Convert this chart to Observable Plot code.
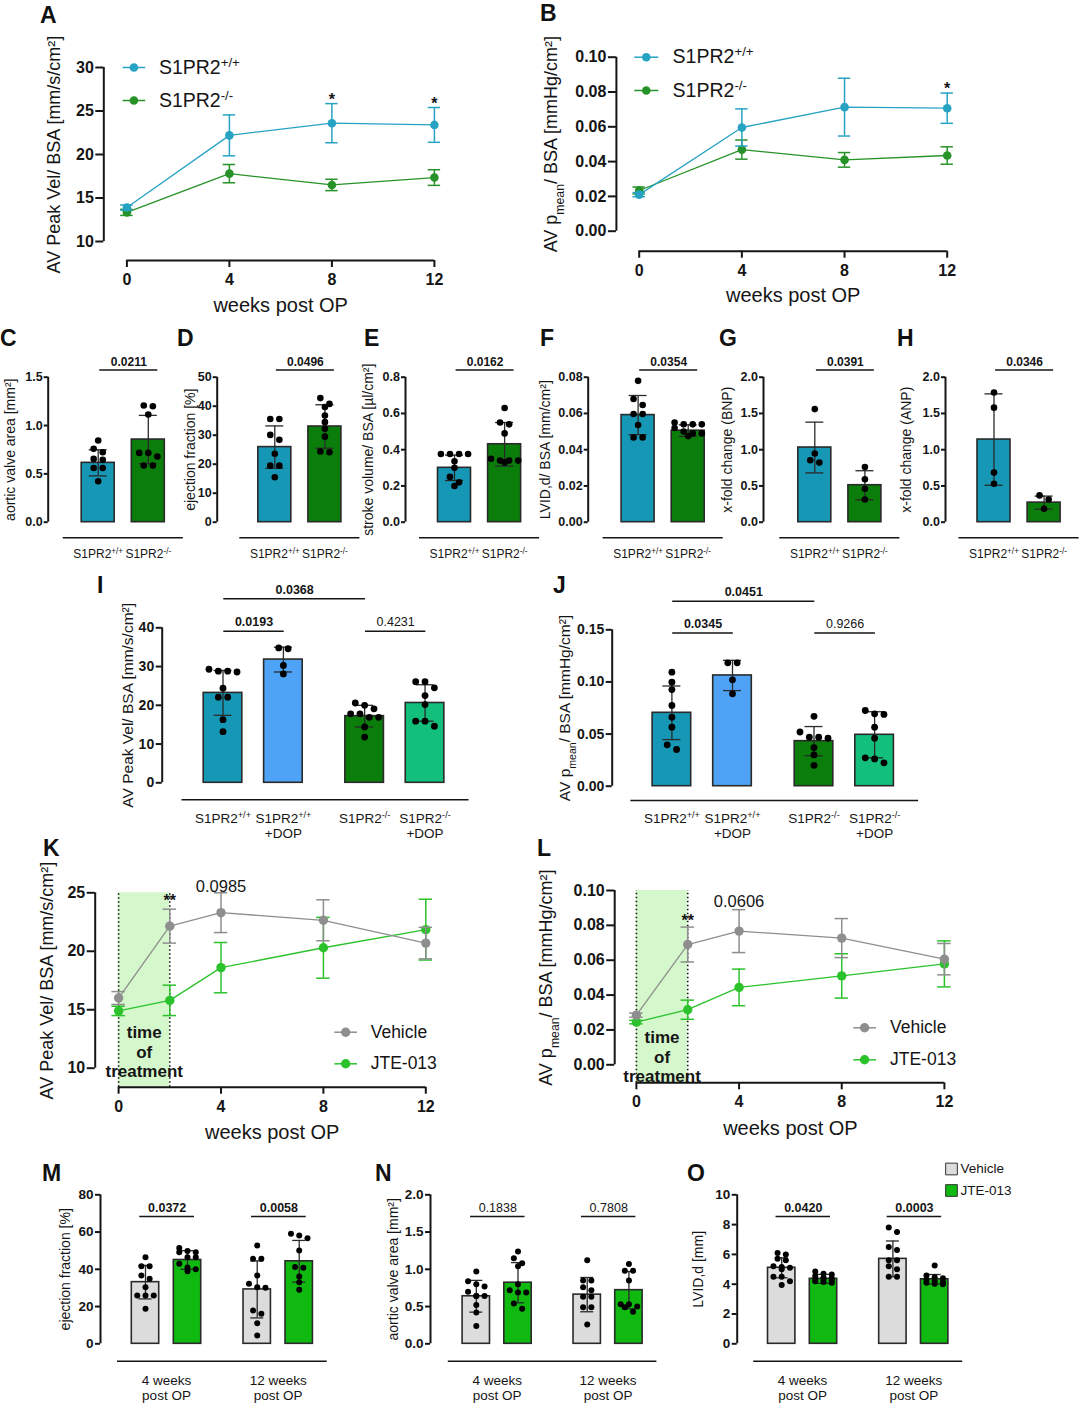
<!DOCTYPE html>
<html><head><meta charset="utf-8">
<script src="https://cdn.jsdelivr.net/npm/d3@7"></script>
<script src="https://cdn.jsdelivr.net/npm/@observablehq/plot@0.6"></script>
<style>
body{margin:0;background:#fff}
#fig{position:relative;width:1080px;height:1403px;background:#fff;font-family:'Liberation Sans',Arial,sans-serif;overflow:hidden}
.letter{position:absolute;font-weight:bold;font-size:23px;line-height:1;color:#111}
</style></head>
<body><div id="fig"></div>
<script>
// ================= DATA =================
// A – AV peak velocity / BSA (mean ± SEM)
const weeksAB = [0, 4, 8, 12];
const aWtMean = [13.9, 22.2, 23.6, 23.4];
const aWtErr  = [0.3, 2.35, 2.25, 2.0];
const aKoMean = [13.35, 17.8, 16.5, 17.35];
const aKoErr  = [0.35, 1.05, 0.65, 0.9];
const aTicksY = [10, 15, 20, 25, 30];
// B – AV pmean / BSA
const bWtMean = [0.021, 0.0596, 0.0713, 0.0707];
const bWtErr  = [0.0012, 0.0107, 0.0166, 0.0087];
const bKoMean = [0.0234, 0.0469, 0.041, 0.0435];
const bKoErr  = [0.002, 0.0055, 0.0042, 0.005];
const bTicksY = [0, 0.02, 0.04, 0.06, 0.08, 0.10];
const weekTicks = [0, 4, 8, 12];
const genoNames = ["S1PR2^{+/+}", "S1PR2^{-/-}"];
const aNotes = [{x: 8, s: 0, t: "*"}, {x: 12, s: 0, t: "*"}];
const bNotes = [{x: 12, s: 0, t: "*"}];

// C–H two-group bar charts (mean, SD, individual points)
const cMean = [0.614, 0.855], cSD = [0.135, 0.25];
const cPts = [[0.845, 0.759, 0.724, 0.655, 0.645, 0.56, 0.56, 0.424], [1.2, 1.207, 1.114, 0.717, 0.717, 0.679, 0.586, 0.586]];
const dMean = [25.9, 33.0], dSD = [7.3, 7.5];
const dPts = [[35.6, 35.6, 30.1, 28.4, 23.6, 19.5, 19.5, 15.5], [42.8, 40.8, 39.7, 36.8, 34.5, 32.2, 29.5, 24.1, 24.4]];
const eMean = [0.30, 0.43], eSD = [0.07, 0.12];
const ePts = [[0.376, 0.376, 0.376, 0.376, 0.336, 0.30, 0.25, 0.20, 0.22], [0.63, 0.55, 0.54, 0.49, 0.34, 0.34, 0.34, 0.33, 0.35]];
const fMean = [0.0591, 0.0505], fSD = [0.0108, 0.0032];
const fPts = [[0.078, 0.068, 0.0647, 0.0597, 0.0597, 0.0536, 0.0467, 0.0467], [0.055, 0.054, 0.054, 0.054, 0.052, 0.050, 0.049, 0.049, 0.0475]];
const gMean = [1.03, 0.51], gSD = [0.35, 0.2];
const gPts = [[1.56, 0.947, 0.822, 0.855], [0.762, 0.591, 0.462, 0.314]];
const hMean = [1.14, 0.27], hSD = [0.63, 0.09];
const hPts = [[1.79, 1.58, 0.684, 0.531], [0.185, 0.314, 0.37]];
const cP = "0.0211", dP = "0.0496", eP = "0.0162", fP = "0.0354", gP = "0.0391", hP = "0.0346";

// I, J four-group bar charts
const dopLabels = ["S1PR2^{+/+}", "S1PR2^{+/+}\n+DOP", "S1PR2^{-/-}", "S1PR2^{-/-}\n+DOP"];
const iMean = [23.2, 31.8, 17.2, 20.6], iSD = [5.8, 3.2, 2.8, 4.7];
const iPts = [[28.8, 29.3, 28.8, 28.6, 24.4, 22.1, 22.1, 16.3, 13.2], [34.6, 34.8, 30.3, 28.1],
              [20.0, 20.6, 19.1, 17.8, 17.8, 16.9, 16.9, 14.4, 11.8], [26.1, 26.1, 24.5, 22.5, 20.2, 15.9, 15.9, 14.6]];
const iBrackets = [{a: 0, b: 1, t: "0.0193", bold: true}, {a: 0, b: 2, t: "0.0368", bold: true}, {a: 2, b: 3, t: "0.4231", bold: false}];
const jMean = [0.0704, 0.1062, 0.0432, 0.0493], jSD = [0.0257, 0.0145, 0.014, 0.0221];
const jPts = [[0.1094, 0.0998, 0.0927, 0.0774, 0.0662, 0.0566, 0.0352, 0.0397], [0.1183, 0.1183, 0.102, 0.0886],
              [0.067, 0.052, 0.047, 0.047, 0.046, 0.037, 0.030, 0.020], [0.0688, 0.0726, 0.0694, 0.0566, 0.046, 0.0224, 0.0272, 0.0262]];
const jBrackets = [{a: 0, b: 1, t: "0.0345", bold: true}, {a: 0, b: 2, t: "0.0451", bold: true}, {a: 2, b: 3, t: "0.9266", bold: false}];

// K, L – JTE-013 time course (mean ± SEM)
const weeksKL = [0, 2, 4, 8, 12];
const treatNames = ["Vehicle", "JTE-013"];
const kVehMean = [16.0, 22.15, 23.3, 22.65, 20.7], kVehErr = [0.55, 1.45, 1.7, 1.75, 1.35];
const kJteMean = [14.9, 15.8, 18.6, 20.3, 21.85], kJteErr = [0.4, 1.3, 2.15, 2.6, 2.6];
const kTicksY = [10, 15, 20, 25];
const lVehMean = [0.0285, 0.069, 0.0767, 0.0727, 0.0606], lVehErr = [0.0012, 0.01, 0.0123, 0.0112, 0.009];
const lJteMean = [0.0245, 0.0316, 0.0444, 0.051, 0.0579], lJteErr = [0.001, 0.0055, 0.0105, 0.0127, 0.0132];
const lTicksY = [0, 0.02, 0.04, 0.06, 0.08, 0.10];
const klTicksX = [0, 4, 8, 12];
const treatWindow = {x1: 0, x2: 2, label: "time\nof\ntreatment"};
const kNotes = [{x: 2, s: 0, t: "**", bold: true}, {x: 4, s: 0, t: "0.0985", bold: false}];
const lNotes = [{x: 2, s: 0, t: "**", bold: true}, {x: 4, s: 0, t: "0.0606", bold: false}];

// M, N, O – 4 and 12 weeks post OP, Vehicle vs JTE-013
const timeLabels = ["4 weeks\npost OP", "12 weeks\npost OP"];
const mMean = [33.1, 45.0, 29.2, 44.3], mSD = [9.0, 5.0, 15.3, 11.2];
const mPts = [[46.5, 41.7, 41.7, 36.7, 34.9, 30.4, 26.0, 26.0, 26.0, 18.8], [51.4, 49.8, 49.2, 49.2, 46.5, 46.5, 43.0, 41.0, 39.0, 40.0],
              [52.8, 45.6, 45.6, 36.7, 30.1, 30.4, 32.2, 16.1, 17.9, 11.1, 4.5], [59.1, 58.2, 56.7, 50.1, 41.2, 40.8, 36.2, 33.1, 29.0]];
const mBrackets = [{a: 0, b: 1, t: "0.0372", bold: true}, {a: 2, b: 3, t: "0.0058", bold: true}];
const nMean = [0.638, 0.82, 0.66, 0.72], nSD = [0.213, 0.27, 0.23, 0.25];
const nPts = [[0.97, 0.84, 0.80, 0.77, 0.70, 0.64, 0.64, 0.64, 0.52, 0.42, 0.24], [1.24, 1.15, 1.08, 1.04, 0.80, 0.72, 0.69, 0.69, 0.54, 0.47],
              [1.12, 0.85, 0.85, 0.76, 0.72, 0.63, 0.63, 0.49, 0.49, 0.26], [1.07, 0.98, 0.98, 0.85, 0.53, 0.53, 0.50, 0.49, 0.43]];
const nBrackets = [{a: 0, b: 1, t: "0.1838", bold: false}, {a: 2, b: 3, t: "0.7808", bold: false}];
const oMean = [5.1, 4.36, 5.7, 4.33], oSD = [0.67, 0.3, 1.2, 0.32];
const oPts = [[6.1, 6.0, 5.7, 5.6, 5.2, 5.15, 5.1, 5.0, 4.5, 4.5, 4.2, 3.95], [4.85, 4.7, 4.65, 4.55, 4.45, 4.4, 4.35, 4.3, 4.25, 4.2, 4.15, 4.1],
              [7.8, 7.5, 6.5, 6.3, 5.6, 5.6, 5.2, 5.0, 4.5, 4.5], [5.26, 4.59, 4.47, 4.4, 4.3, 4.2, 4.14, 4.1, 4.03, 4.0]];
const oBrackets = [{a: 0, b: 1, t: "0.0420", bold: true}, {a: 2, b: 3, t: "0.0003", bold: true}];

// ================= STYLE =================
const FONT = "'Liberation Sans', Arial, Helvetica, sans-serif";
const INK = "#151515";
const TEAL = "#1697b5", KO = "#0b7d0b", DOPB = "#4ea3f7", DOPG = "#12c07c";
const VEH = "#dcdcdc", JTE = "#10b910";
const TEAL_L = "#26a3c2", KO_L = "#279227", VEH_L = "#8e8e8e", JTE_L = "#2cc22c", SHADE = "#d4f7cb";
const fig = document.getElementById("fig");

function inv(dom, px, p) { return dom[0] + (p - px[0]) * (dom[1] - dom[0]) / (px[1] - px[0]); }
const fmt = k => d => d.toFixed(k);
const lineSym = {draw(ctx, size) { const w = Math.sqrt(size / Math.PI); ctx.moveTo(-w, 0); ctx.lineTo(w, 0); }};

function richify(svg) {
  const walker = document.createTreeWalker(svg, NodeFilter.SHOW_TEXT);
  const nodes = []; while (walker.nextNode()) nodes.push(walker.currentNode);
  for (const n of nodes) {
    const s = n.nodeValue;
    if (!/[\^_]\{/.test(s)) continue;
    const frag = document.createDocumentFragment();
    const re = /([\^_])\{([^}]*)\}/g; let last = 0, m;
    while ((m = re.exec(s))) {
      if (m.index > last) frag.appendChild(document.createTextNode(s.slice(last, m.index)));
      const t = document.createElementNS("http://www.w3.org/2000/svg", "tspan");
      t.setAttribute("baseline-shift", m[1] === "^" ? "super" : "sub");
      t.setAttribute("font-size", "68%");
      t.textContent = m[2];
      frag.appendChild(t);
      last = re.lastIndex;
    }
    if (last < s.length) frag.appendChild(document.createTextNode(s.slice(last)));
    n.parentNode.replaceChild(frag, n);
  }
}

function place(cfg, marks) {
  const [L, T, W, H] = cfg.box;
  const svg = Plot.plot({
    width: W, height: H,
    marginLeft: cfg.yAxisX - L, marginTop: cfg.yPx[1] - T,
    marginBottom: T + H - cfg.xAxisY, marginRight: 5,
    x: {type: "linear", domain: cfg.xDom, range: cfg.xPx.map(p => p - L)},
    y: {type: "linear", domain: cfg.yDom, range: cfg.yPx.map(p => p - T)},
    color: {type: "identity"},
    style: {fontFamily: FONT, fontSize: "12px", color: INK, background: "transparent", overflow: "visible"},
    marks
  });
  svg.style.position = "absolute"; svg.style.left = L + "px"; svg.style.top = T + "px";
  richify(svg);
  fig.appendChild(svg);
}

function axesMarks(cfg) {
  return [
    Plot.ruleX([inv(cfg.xDom, cfg.xPx, cfg.yAxisX)], {y1: cfg.yDom[0], y2: cfg.yDom[1], stroke: INK, strokeWidth: cfg.axisW || 2}),
    Plot.axisY({ticks: cfg.yTicks, tickFormat: cfg.yFmt, tickSize: cfg.tickSize, tickPadding: cfg.tickPad || 2, fontSize: cfg.tickFont, fontWeight: "bold", stroke: INK, strokeWidth: cfg.axisW || 2, label: null}),
    Plot.text([cfg.title], {frameAnchor: "left", y: (cfg.yDom[0] + cfg.yDom[1]) / 2, dx: cfg.titleCx - cfg.yAxisX, rotate: -90, text: d => d, textAnchor: "middle", lineAnchor: "middle", fontSize: cfg.titleSize, fill: INK})
  ];
}

function linePanel(cfg) {
  const ux = (cfg.xDom[1] - cfg.xDom[0]) / (cfg.xPx[1] - cfg.xPx[0]);
  const capU = cfg.capPx * ux;
  const yBase = inv(cfg.yDom, cfg.yPx, cfg.xAxisY);
  const marks = [];
  if (cfg.shade) {
    marks.push(Plot.rect([cfg.shade], {x1: "x1", x2: "x2", y1: yBase, y2: cfg.yDom[1], fill: SHADE}));
    marks.push(Plot.ruleX([cfg.shade.x1, cfg.shade.x2], {y1: yBase, y2: cfg.yDom[1], stroke: INK, strokeWidth: 1.6, strokeDasharray: "1.5 2.5"}));
  }
  marks.push(...axesMarks(cfg));
  marks.push(Plot.ruleY([yBase], {x1: cfg.xDom[0], x2: cfg.xDom[1], stroke: INK, strokeWidth: 2}));
  marks.push(Plot.axisX({ticks: cfg.xTicks, tickSize: 7, tickPadding: 6, fontSize: cfg.tickFont, fontWeight: "bold", stroke: INK, strokeWidth: 2, label: null}));
  marks.push(Plot.text([cfg.xLabel], {x: (cfg.xDom[0] + cfg.xDom[1]) / 2, frameAnchor: "bottom", dy: cfg.xLabelDy, text: d => d, lineAnchor: "middle", fontSize: cfg.xLabelSize, fill: INK}));
  const rows = cfg.series.map(s => s.mean.map((m, i) => ({x: cfg.x[i], m, lo: m - s.err[i], hi: m + s.err[i]})));
  [...cfg.series.keys()].reverse().forEach(si => {
    const s = cfg.series[si], d = rows[si];
    marks.push(Plot.line(d, {x: "x", y: "m", stroke: s.color, strokeWidth: 1.3}));
    marks.push(Plot.ruleX(d, {x: "x", y1: "lo", y2: "hi", stroke: s.color, strokeWidth: 1.5}));
    marks.push(Plot.ruleY(d, {y: "lo", x1: r => r.x - capU, x2: r => r.x + capU, stroke: s.color, strokeWidth: 1.5}));
    marks.push(Plot.ruleY(d, {y: "hi", x1: r => r.x - capU, x2: r => r.x + capU, stroke: s.color, strokeWidth: 1.5}));
    marks.push(Plot.dot(d, {x: "x", y: "m", r: cfg.r, fill: s.color}));
  });
  for (const n of cfg.notes) {
    const r = rows[n.s].find(q => q.x === n.x);
    marks.push(Plot.text([n], {x: n.x, y: r.hi, text: d => d.t, dy: n.bold === false ? cfg.pDy : cfg.starDy, lineAnchor: "middle",
      fontWeight: n.bold === false ? "normal" : "bold", fontSize: n.bold === false ? cfg.pSize : cfg.starSize, fill: INK}));
  }
  if (cfg.shade) {
    marks.push(Plot.text([cfg.shade.label], {x: (cfg.shade.x1 + cfg.shade.x2) / 2, y: cfg.shadeTextY, text: d => d, fontWeight: "bold", fontSize: cfg.shadeSize, lineHeight: 1.15, lineAnchor: "middle", fill: INK}));
  }
  const lg = cfg.legend;
  cfg.series.forEach((s, i) => {
    marks.push(Plot.dot([s], {frameAnchor: "top-left", dx: lg.lineDx, dy: lg.dy[i], r: lg.half, symbol: lineSym, stroke: s.color, fill: "none", strokeWidth: 1.5}));
    marks.push(Plot.dot([s], {frameAnchor: "top-left", dx: lg.lineDx, dy: lg.dy[i], r: cfg.r, fill: s.color}));
    marks.push(Plot.text([s.name], {frameAnchor: "top-left", dx: lg.textDx, dy: lg.dy[i], text: d => d, textAnchor: "start", lineAnchor: "middle", fontSize: lg.size, fill: INK}));
  });
  place(cfg, marks);
}

// symmetric row-based spreading of points (GraphPad-like), capped at the bar width
function swarm(vals, ypu, r, maxOffPx) {
  const s = 2.75 * r;
  const maxPer = Math.max(1, Math.floor(2 * maxOffPx / s) + 1);
  const order = vals.map((_, i) => i).sort((a, b) => vals[b] - vals[a]);
  const rows = [];
  for (const i of order) {
    const py = vals[i] * ypu, row = rows[rows.length - 1];
    if (row && Math.abs(row.py - py) < 1.9 * r && row.items.length < maxPer) row.items.push(i); else rows.push({py, items: [i]});
  }
  const off = vals.map(() => 0);
  for (const row of rows) row.items.forEach((i, k) => off[i] = (k - (row.items.length - 1) / 2) * s);
  return off;
}

function barPanel(cfg, dat) {
  const step = cfg.step;
  const pos = dat.mean.map((_, i) => i + Math.floor(i / 2) * (cfg.gap || 0));
  const c = {...cfg, xDom: [0, 1], xPx: [cfg.c0, cfg.c0 + step]};
  const ypu = (cfg.yPx[0] - cfg.yPx[1]) / (cfg.yDom[1] - cfg.yDom[0]);
  const halfU = cfg.barHalfPx / step, capU = cfg.capPx / step;
  const yBase = inv(cfg.yDom, cfg.yPx, cfg.xAxisY);
  const groups = dat.mean.map((m, i) => ({pos: pos[i], mean: m, lo: m - dat.sd[i], hi: m + dat.sd[i], fill: dat.colors[i]}));
  const pts = dat.pts.flatMap((vals, i) => { const off = swarm(vals, ypu, cfg.r, cfg.barHalfPx - cfg.r * 0.6); return vals.map((v, k) => ({x: pos[i] + off[k] / step, v})); });
  const catTicks = cfg.pairs ? [(pos[0] + pos[1]) / 2, (pos[2] + pos[3]) / 2] : pos;
  const catMap = new Map(catTicks.map((t, i) => [t, dat.labels[i]]));
  const br = dat.brackets.map((b, i) => ({x1: pos[b.a] + cfg.brExt[0] / step, x2: pos[b.b] + cfg.brExt[1] / step, y: cfg.yDom[1] * cfg.brLvl[i], t: b.t, bold: b.bold}));
  const marks = [
    ...axesMarks(c),
    Plot.ruleY([yBase], {x1: pos[0] - cfg.catExt[0] / step, x2: pos[pos.length - 1] + cfg.catExt[1] / step, stroke: INK, strokeWidth: 1.6}),
    Plot.axisX({ticks: catTicks, tickSize: 0, tickPadding: cfg.labelPad, tickFormat: d => catMap.get(d), fontSize: cfg.labelSize, lineHeight: cfg.labelLH || 1.15, fill: INK, label: null}),
    Plot.rect(groups, {x1: g => g.pos - halfU, x2: g => g.pos + halfU, y1: 0, y2: "mean", fill: "fill", stroke: "#2a2a2a", strokeWidth: 1.6}),
    Plot.ruleX(groups, {x: "pos", y1: "lo", y2: "hi", stroke: "#2a2a2a", strokeWidth: 1.3}),
    Plot.ruleY(groups, {y: "lo", x1: g => g.pos - capU, x2: g => g.pos + capU, stroke: "#2a2a2a", strokeWidth: 1.3}),
    Plot.ruleY(groups, {y: "hi", x1: g => g.pos - capU, x2: g => g.pos + capU, stroke: "#2a2a2a", strokeWidth: 1.3}),
    Plot.dot(pts, {x: "x", y: "v", r: cfg.r, fill: "#000"}),
    Plot.ruleY(br, {y: "y", x1: "x1", x2: "x2", stroke: INK, strokeWidth: 1.6}),
    Plot.text(br.filter(b => b.bold), {x: b => (b.x1 + b.x2) / 2, y: "y", text: "t", dy: cfg.brDy, lineAnchor: "middle", fontWeight: "bold", fontSize: cfg.brSize, fill: INK}),
    Plot.text(br.filter(b => !b.bold), {x: b => (b.x1 + b.x2) / 2, y: "y", text: "t", dy: cfg.brDy, lineAnchor: "middle", fontWeight: "normal", fontSize: cfg.brSize, fill: INK})
  ];
  if (cfg.legend) {
    const lg = cfg.legend;
    lg.items.forEach((it, i) => {
      marks.push(Plot.dot([it], {frameAnchor: "top-left", dx: lg.dx, dy: lg.dy[i], symbol: "square", r: lg.r, fill: it.color, stroke: "#333", strokeWidth: 1}));
      marks.push(Plot.text([it.name], {frameAnchor: "top-left", dx: lg.textDx, dy: lg.dy[i], text: d => d, textAnchor: "start", lineAnchor: "middle", fontSize: lg.size, fill: INK}));
    });
  }
  place(c, marks);
}

// ================= PANELS =================
const LINE_COMMON = {tickFont: 16, tickSize: 8, titleSize: 18, xLabel: "weeks post OP", xLabelSize: 20, capPx: 6.2, starSize: 16, starDy: -4, pSize: 16.5, pDy: -8};
linePanel({...LINE_COMMON, box: [0, 30, 530, 300], yAxisX: 103.3, xAxisY: 260, xDom: [0, 12], xPx: [126.4, 433.9], yDom: [10, 30], yPx: [241, 67],
  yTicks: aTicksY, yFmt: fmt(0), xTicks: weekTicks, x: weeksAB, r: 4.3, title: "AV Peak Vel/ BSA [mm/s/cm²]", titleCx: 53.4, xLabelDy: 45,
  series: [{name: genoNames[0], color: TEAL_L, mean: aWtMean, err: aWtErr}, {name: genoNames[1], color: KO_L, mean: aKoMean, err: aKoErr}],
  notes: aNotes, legend: {lineDx: 30.1, half: 11.3, textDx: 55.1, dy: [0, 33], size: 19.5}});
linePanel({...LINE_COMMON, box: [530, 20, 550, 300], yAxisX: 615.9, xAxisY: 250.7, xDom: [0, 12], xPx: [638.7, 946.7], yDom: [0, 0.10], yPx: [230.7, 56.7],
  yTicks: bTicksY, yFmt: fmt(2), xTicks: weekTicks, x: weeksAB, r: 4.3, title: "AV p_{mean}/ BSA [mmHg/cm²]", titleCx: 551, xLabelDy: 44.3,
  series: [{name: genoNames[0], color: TEAL_L, mean: bWtMean, err: bWtErr}, {name: genoNames[1], color: KO_L, mean: bKoMean, err: bKoErr}],
  notes: bNotes, legend: {lineDx: 29.9, half: 12, textDx: 56.2, dy: [0, 33.3], size: 19.5}});
linePanel({...LINE_COMMON, box: [0, 860, 530, 290], yAxisX: 94.7, xAxisY: 1086.7, xDom: [0, 12], xPx: [118.1, 425.3], yDom: [10, 25], yPx: [1067.7, 892.3],
  yTicks: kTicksY, yFmt: fmt(0), xTicks: klTicksX, x: weeksKL, r: 4.7, title: "AV Peak Vel/ BSA [mm/s/cm²]", titleCx: 46.5, xLabelDy: 45, capPx: 6.7,
  shade: treatWindow, shadeTextY: 11.45, shadeSize: 17,
  series: [{name: treatNames[0], color: VEH_L, mean: kVehMean, err: kVehErr}, {name: treatNames[1], color: JTE_L, mean: kJteMean, err: kJteErr}],
  notes: kNotes, starDy: -8, pDy: -6, legend: {lineDx: 250.5, half: 11.3, textDx: 275.5, dy: [139.4, 171], size: 17.5}});
linePanel({...LINE_COMMON, box: [530, 860, 550, 290], yAxisX: 614.2, xAxisY: 1082.3, xDom: [0, 12], xPx: [635.9, 943.9], yDom: [0, 0.10], yPx: [1064.3, 890],
  yTicks: lTicksY, yFmt: fmt(2), xTicks: klTicksX, x: weeksKL, r: 4.7, title: "AV p_{mean}/ BSA [mmHg/cm²]", titleCx: 545.8, xLabelDy: 46, capPx: 6.7,
  shade: treatWindow, shadeTextY: 0.0048, shadeSize: 17,
  series: [{name: treatNames[0], color: VEH_L, mean: lVehMean, err: lVehErr}, {name: treatNames[1], color: JTE_L, mean: lJteMean, err: lJteErr}],
  notes: lNotes, starDy: -6, pDy: -7.5, legend: {lineDx: 249.9, half: 11.3, textDx: 275.3, dy: [137.3, 169.3], size: 17.5}});

const SMALL = {xAxisY: 537.3, yPx: [521.7, 376.7], step: 50.1, barHalfPx: 16.5, capPx: 9, r: 3.3, tickFont: 12.5, tickSize: 4, tickPad: 1.5, titleSize: 14,
  labelPad: 10, labelSize: 12, catExt: [35, 35], brExt: [1.6, 9.5], brLvl: [1.05], brDy: -7.6, brSize: 12};
const geno = (mean, sd, pts, p) => ({mean, sd, pts, colors: [TEAL, KO], labels: genoNames, brackets: [{a: 0, b: 1, t: p, bold: true}]});
barPanel({...SMALL, box: [0, 345, 185, 225], yAxisX: 47.7, yDom: [0, 1.5], yTicks: [0, 0.5, 1.0, 1.5], yFmt: fmt(1), c0: 97.7, title: "aortic valve area [mm²]", titleCx: 10}, geno(cMean, cSD, cPts, cP));
barPanel({...SMALL, box: [170, 345, 190, 225], yAxisX: 216.7, yDom: [0, 50], yTicks: [0, 10, 20, 30, 40, 50], yFmt: fmt(0), c0: 274.3, title: "ejection fraction [%]", titleCx: 190}, geno(dMean, dSD, dPts, dP));
barPanel({...SMALL, box: [355, 345, 185, 225], yAxisX: 405, yDom: [0, 0.8], yTicks: [0, 0.2, 0.4, 0.6, 0.8], yFmt: fmt(1), c0: 454, title: "stroke volume/ BSA [µl/cm²]", titleCx: 368}, geno(eMean, eSD, ePts, eP));
barPanel({...SMALL, box: [535, 345, 190, 225], yAxisX: 587.7, yDom: [0, 0.08], yTicks: [0, 0.02, 0.04, 0.06, 0.08], yFmt: fmt(2), c0: 637.6, title: "LVID,d/ BSA [mm/cm²]", titleCx: 545}, geno(fMean, fSD, fPts, fP));
barPanel({...SMALL, box: [715, 345, 190, 225], yAxisX: 763, yDom: [0, 2.0], yTicks: [0, 0.5, 1.0, 1.5, 2.0], yFmt: fmt(1), c0: 814.3, title: "x-fold change (BNP)", titleCx: 727}, geno(gMean, gSD, gPts, gP));
barPanel({...SMALL, box: [895, 345, 185, 225], yAxisX: 945, yDom: [0, 2.0], yTicks: [0, 0.5, 1.0, 1.5, 2.0], yFmt: fmt(1), c0: 993.5, title: "x-fold change (ANP)", titleCx: 906}, geno(hMean, hSD, hPts, hP));

const MID = {step: 60.4, gap: 0.345, barHalfPx: 19.3, capPx: 9, r: 3.4, tickFont: 14, tickSize: 6, titleSize: 15.5,
  labelPad: 12, labelSize: 13.5, labelLH: 1.12, catExt: [41, 44], brExt: [0.8, 0.8], brDy: -9, brSize: 12.5};
barPanel({...MID, box: [95, 575, 390, 265], yAxisX: 161.7, xAxisY: 799.3, yDom: [0, 40], yPx: [782.3, 627.3], yTicks: [0, 10, 20, 30, 40], yFmt: fmt(0),
  c0: 222.5, title: "AV Peak Vel/ BSA [mm/s/cm²]", titleCx: 128, brLvl: [0.978, 1.1875, 0.978]},
  {mean: iMean, sd: iSD, pts: iPts, colors: [TEAL, DOPB, KO, DOPG], labels: dopLabels, brackets: iBrackets});
barPanel({...MID, box: [545, 575, 390, 265], yAxisX: 611.7, xAxisY: 800, yDom: [0, 0.15], yPx: [785.7, 629.3], yTicks: [0, 0.05, 0.10, 0.15], yFmt: fmt(2),
  c0: 671.4, step: 60.6, title: "AV p_{mean}/ BSA [mmHg/cm²]", titleCx: 565, brLvl: [0.98, 1.183, 0.98]},
  {mean: jMean, sd: jSD, pts: jPts, colors: [TEAL, DOPB, KO, DOPG], labels: dopLabels, brackets: jBrackets});

const LOW = {xAxisY: 1360.7, yPx: [1343.3, 1194.3], step: 41.8, gap: 0.66, barHalfPx: 13.7, capPx: 6.5, r: 3.0, tickFont: 13.5, tickSize: 5, titleSize: 14,
  labelPad: 13, labelSize: 13.5, labelLH: 1.12, pairs: true, catExt: [28, 28], brExt: [-5.7, 7], brLvl: [0.854, 0.854], brDy: -8.7, brSize: 12.5};
barPanel({...LOW, box: [40, 1180, 300, 223], yAxisX: 100, yDom: [0, 80], yTicks: [0, 20, 40, 60, 80], yFmt: fmt(0), c0: 145, step: 42,
  title: "ejection fraction [%]", titleCx: 65},
  {mean: mMean, sd: mSD, pts: mPts, colors: [VEH, JTE, VEH, JTE], labels: timeLabels, brackets: mBrackets});
barPanel({...LOW, box: [370, 1180, 300, 223], yAxisX: 430, yDom: [0, 2.0], yTicks: [0, 0.5, 1.0, 1.5, 2.0], yFmt: fmt(1), c0: 475.8, step: 41.7,
  title: "aortic valve area [mm²]", titleCx: 393.3},
  {mean: nMean, sd: nSD, pts: nPts, colors: [VEH, JTE, VEH, JTE], labels: timeLabels, brackets: nBrackets});
barPanel({...LOW, box: [680, 1150, 400, 253], yAxisX: 736.7, yDom: [0, 10], yTicks: [0, 2, 4, 6, 8, 10], yFmt: fmt(0), c0: 781.2,
  title: "LVID,d [mm]", titleCx: 698.3,
  legend: {items: [{name: treatNames[0], color: VEH}, {name: treatNames[1], color: JTE}], dx: 214.3, textDx: 223.3, dy: [-25.8, -4.3], r: 6.6, size: 13.5}},
  {mean: oMean, sd: oSD, pts: oPts, colors: [VEH, JTE, VEH, JTE], labels: timeLabels, brackets: oBrackets});

// panel letters
[["A", 40, 4], ["B", 540, 2], ["C", 0, 327], ["D", 177, 327], ["E", 364, 327], ["F", 540, 327], ["G", 719, 327], ["H", 897, 327],
 ["I", 97, 574], ["J", 553, 574], ["K", 43, 837], ["L", 537, 837], ["M", 42, 1162], ["N", 375, 1162], ["O", 687, 1162]].forEach(([t, x, y]) => {
  const d = document.createElement("div"); d.className = "letter"; d.textContent = t; d.style.left = x + "px"; d.style.top = y + "px"; fig.appendChild(d);
});
</script></body></html>
